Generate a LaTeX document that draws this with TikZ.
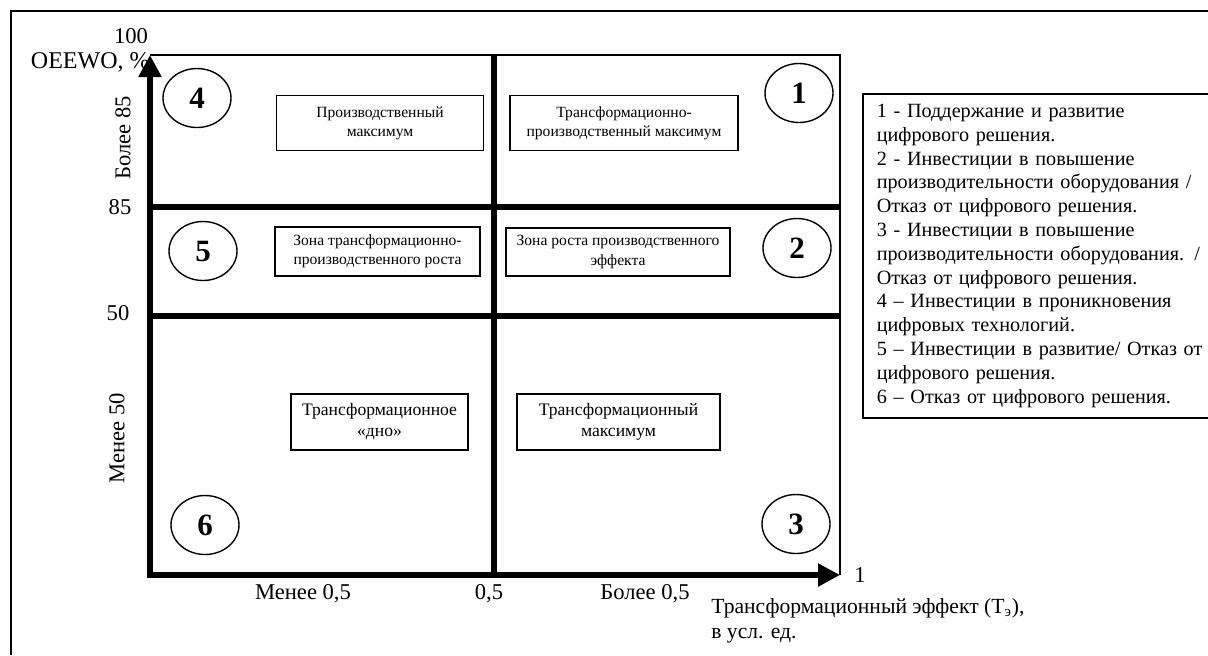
\documentclass[tikz,border=0pt]{standalone}
\usepackage{fontspec}
\setmainfont{Liberation Serif}
\usepackage{tikz}
\usetikzlibrary{arrows.meta,positioning,calc,shapes.geometric}

\begin{document}
\begin{tikzpicture}[x=0.5pt,y=-0.5pt,
    zone/.style={rectangle,draw,line width=0.7pt,align=center,inner sep=1pt,font=\fontsize{7.8}{9.6}\selectfont},
    num/.style={ellipse,draw,line width=0.7pt,minimum width=34pt,minimum height=29.5pt,inner sep=0pt,font=\fontsize{15.5}{15.5}\selectfont\bfseries},
    axis/.style={line width=2.6pt,line cap=rect,-{Triangle[length=11pt,width=11pt]}},
    bar/.style={line width=2.6pt},
    frame/.style={line width=0.8pt},
    lbl/.style={inner sep=0pt,font=\fontsize{11.3}{12.6}\selectfont}
]
\useasboundingbox (0,0) rectangle (1208,655);
% outer frame
\draw[line width=1pt] (11,655) -- (11,11) -- (1208,11);

% axes and grid
\coordinate (O) at (150,575);
\coordinate (ytop) at (150,55);
\coordinate (xend) at (840,575);
\coordinate (tr) at (840,55);
\coordinate (h85a) at (150,207);
\coordinate (h85b) at (840,207);
\coordinate (h50a) at (150,316);
\coordinate (h50b) at (840,316);
\coordinate (mtop) at (494,55);
\coordinate (mbot) at (494,575);

\draw[frame] (ytop) -- (tr) -- (xend);
\draw[bar] (h85a) -- (h85b);
\draw[bar] (h50a) -- (h50b);
\draw[bar] (mtop) -- (mbot);
\draw[axis] (O) -- (ytop);
\draw[axis] (O) -- (xend);

% axis labels
\node[lbl] (t100) at (131,36) {100};
\node[lbl,anchor=east,font=\fontsize{12}{13}\selectfont] (yname) at (150,62) {OEEWO, \%};
\node[lbl,rotate=90] (ymore) at (123,138) {Более 85};
\node[lbl] (t85) at (120,207) {85};
\node[lbl] (t50) at (118,313) {50};
\node[lbl,rotate=90] (yless) at (117,438) {Менее 50};
\node[lbl] (xless) at (303,594) {Менее 0,5};
\node[lbl] (t05) at (489,594) {0,5};
\node[lbl] (xmore) at (645,594) {Более 0,5};
\node[lbl,right=7pt of xend] (t1) {1};
\node[lbl,anchor=north west,align=left,font=\fontsize{10.8}{12.4}\selectfont] (xname) at (711,598)
  {Трансформационный эффект (Т\textsubscript{э}),\\в усл. ед.};

% zones
\node[zone,minimum width=103.5pt,minimum height=27.5pt] (z4) at (380,123) {Производственный\\максимум};
\node[zone,minimum width=114pt,minimum height=27.5pt] (z1) at (624,123) {Трансформационно-\\производственный максимум};
\node[zone,minimum width=102.5pt,minimum height=24.5pt] (z5) at (377.5,251.5) {Зона трансформационно-\\производственного роста};
\node[zone,minimum width=112pt,minimum height=24pt] (z2) at (618,252) {Зона роста производственного\\эффекта};
\node[zone,minimum width=88.5pt,minimum height=28pt,font=\fontsize{8.8}{10.5}\selectfont] (z6) at (379.5,422) {Трансформационное\\«дно»};
\node[zone,minimum width=101.5pt,minimum height=28pt,font=\fontsize{8.8}{10.5}\selectfont] (z3) at (618.5,422) {Трансформационный\\максимум};

% quadrant numbers
\node[num] (n4) at (197,98) {4};
\node[num] (n1) at (799,93) {1};
\node[num] (n5) at (203,251) {5};
\node[num] (n2) at (797,248) {2};
\node[num] (n6) at (205,525) {6};
\node[num] (n3) at (796,524) {3};

% legend
\node[draw,line width=0.8pt,anchor=north west,align=left,text width=175pt,inner xsep=7pt,
  minimum height=162pt,font=\fontsize{10.1}{11.9}\selectfont] (legend) at (862,93)
  {1 - Поддержание и развитие\\
   цифрового решения.\\
   2 - Инвестиции в повышение\\
   производительности оборудования /\\
   Отказ от цифрового решения.\\
   3 - Инвестиции в повышение\\
   производительности оборудования. /\\
   Отказ от цифрового решения.\\
   4 – Инвестиции в проникновения\\
   цифровых технологий.\\
   5 – Инвестиции в развитие/ Отказ от\\
   цифрового решения.\\
   6 – Отказ от цифрового решения.};
\end{tikzpicture}
\end{document}
